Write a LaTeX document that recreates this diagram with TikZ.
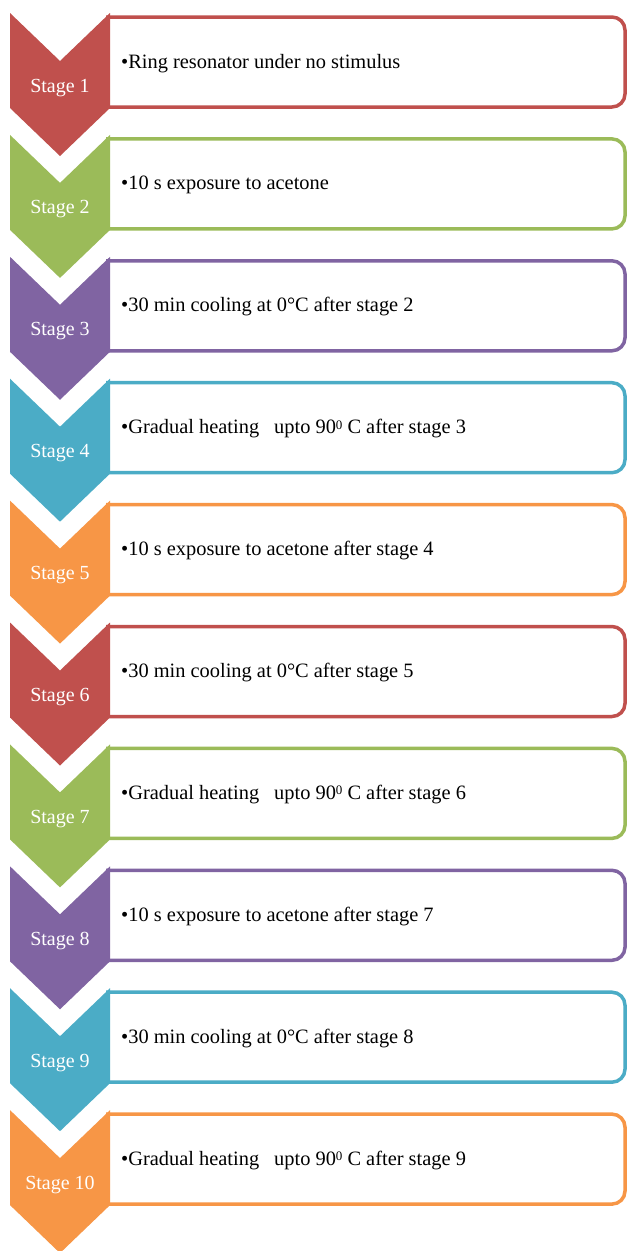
\documentclass[tikz,border=0pt]{standalone}
\usepackage{fontspec}
\setmainfont{Liberation Serif}
\definecolor{cR}{HTML}{C0504D}
\definecolor{cG}{HTML}{9BBB59}
\definecolor{cP}{HTML}{8064A2}
\definecolor{cT}{HTML}{4BACC6}
\definecolor{cO}{HTML}{F79646}
\tikzset{
  stagelbl/.style={text=white, font=\fontsize{20}{24}\selectfont, anchor=base, inner sep=0pt},
  desclbl/.style={text=black, font=\fontsize{20.4}{24}\selectfont, anchor=base west, inner sep=0pt},
  boxline/.style={fill=white, line width=3.5pt, rounded corners=13pt},
}
\newcommand{\upto}{heating\hspace{15pt}upto 90\raisebox{0.5ex}{\fontsize{13}{14}\selectfont 0} C after stage}
\begin{document}
\begin{tikzpicture}[x=1pt,y=-1pt]
\useasboundingbox (0,0) rectangle (628,1251);
\foreach \i/\c/\t in {
  1/cR/{Ring resonator under no stimulus},
  2/cG/{10 s exposure to acetone},
  3/cP/{30 min cooling at 0°C after stage 2},
  4/cT/{Gradual \upto{} 3},
  5/cO/{10 s exposure to acetone after stage 4},
  6/cR/{30 min cooling at 0°C after stage 5},
  7/cG/{Gradual \upto{} 6},
  8/cP/{10 s exposure to acetone after stage 7},
  9/cT/{30 min cooling at 0°C after stage 8},
  10/cO/{Gradual \upto{} 9}}{
  \pgfmathsetmacro\y{13+121.9*(\i-1)}
  \filldraw[boxline, draw=\c] (106,\y+4) -- (625,\y+4) -- (625,\y+94) -- (106,\y+94);
  \fill[\c] (10,\y) -- (60,\y+48) -- (110,\y) -- (110,\y+95) -- (60,\y+143) -- (10,\y+95) -- cycle;
  \node[stagelbl] (s\i) at (60,\y+79) {Stage \i};
  \node[desclbl] (t\i) at (121,\y+55) {\textbullet\t};
}
\end{tikzpicture}
\end{document}
